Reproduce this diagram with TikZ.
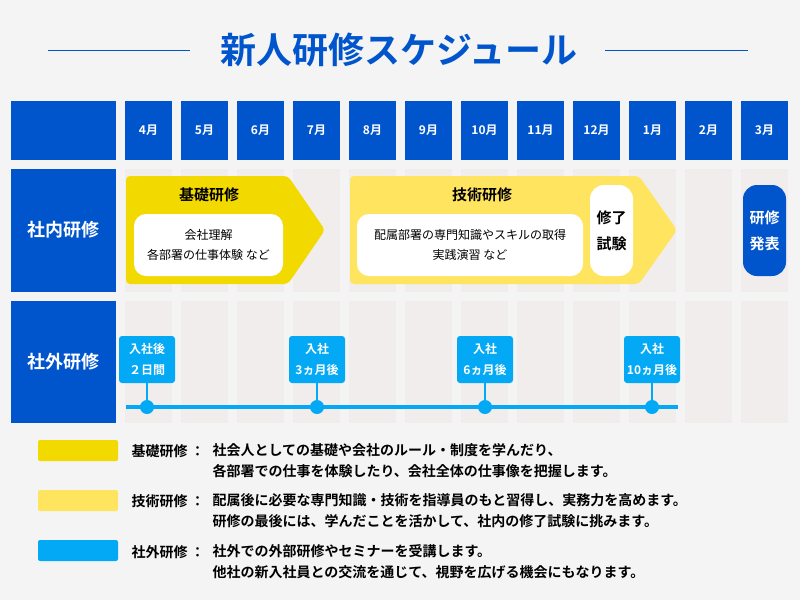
\documentclass[tikz,border=0pt]{standalone}
\usepackage{fontspec}
\setmainfont{Noto Sans CJK JP}[BoldFont={Noto Sans CJK JP Bold}]
\definecolor{bg}{HTML}{F4F4F4}
\definecolor{navy}{HTML}{0055CC}
\definecolor{pale}{HTML}{F1EDED}
\definecolor{yel}{HTML}{F2D900}
\definecolor{lyel}{HTML}{FFE55F}
\definecolor{cyan}{HTML}{03A9F4}
\begin{document}
\begin{tikzpicture}[x=1pt,y=-1pt,
 txt/.style={font=\bfseries\fontsize{12}{14}\selectfont,text=white},
 lab/.style={font=\bfseries\fontsize{18}{21}\selectfont,text=white},
 wbox/.style={fill=white,rounded corners=12pt,align=center,font=\fontsize{12}{20}\selectfont},
 tag/.style={fill=cyan,rounded corners=3pt,minimum width=56pt,minimum height=47pt,align=center,text=white,font=\bfseries\fontsize{12}{21}\selectfont,inner sep=0pt},
 dot/.style={circle,fill=cyan,minimum size=14pt,inner sep=0pt},
 leg/.style={anchor=west,align=left,font=\bfseries\fontsize{14}{21}\selectfont}]
\fill[bg] (0,0) rectangle (800,600);
\useasboundingbox (0,0) rectangle (800,600);
\node[font=\bfseries\fontsize{36}{40}\selectfont,text=navy] (title) at (399,50) {新人研修スケジュール};
\draw[navy,line width=1pt] (48,50) -- (190,50) (605,50) -- (748,50);
\fill[navy] (11,101) rectangle (116,160);
\fill[navy] (11,169) rectangle (116,292);
\fill[navy] (11,301) rectangle (116,423);
\node[lab] (r1) at (63.5,230) {社内研修};
\node[lab] (r2) at (63.5,362) {社外研修};
\foreach \m [count=\i from 0] in {4,5,6,7,8,9,10,11,12,1,2,3}{
  \pgfmathsetmacro\xx{125+56*\i}
  \fill[navy] (\xx,101) rectangle ++(47,59);
  \node[txt] (m\i) at (\xx+23.5,130) {\m 月};
  \fill[pale] (\xx,169) rectangle ++(47,123);
  \fill[pale] (\xx,301) rectangle ++(47,122);
}
\fill[yel,rounded corners=4pt] (126,176) -- (288,176) -- (325,230) -- (288,284) -- (126,284) -- cycle;
\node[font=\bfseries\fontsize{15}{17}\selectfont] (k1) at (209,195) {基礎研修};
\node[wbox,minimum width=149pt,minimum height=62pt] (k2) at (208.5,245) {会社理解\\各部署の仕事体験 など};
\fill[lyel,rounded corners=4pt] (350,176) -- (639,176) -- (677,230) -- (639,284) -- (350,284) -- cycle;
\node[font=\bfseries\fontsize{15}{17}\selectfont] (g1) at (482,195) {技術研修};
\node[wbox,minimum width=226pt,minimum height=62pt] (g2) at (470,245) {配属部署の専門知識やスキルの取得\\実践演習 など};
\node[wbox,minimum width=43pt,minimum height=91pt,rounded corners=14pt,font=\bfseries\fontsize{15}{26}\selectfont,inner sep=0pt] (g3) at (611.5,230.5) {修了\\試験};
\node[fill=navy,rounded corners=14pt,minimum width=43pt,minimum height=91pt,inner sep=0pt,align=center,text=white,font=\bfseries\fontsize{15}{26}\selectfont] (hp) at (764.5,230.5) {研修\\発表};
\coordinate (ls) at (126,407);
\coordinate (le) at (678,407);
\draw[cyan,line width=4pt] (ls) -- (le);
\foreach \x/\t [count=\j] in {147/{入社後\\２日間},317/{入社\\3ヵ月後},485/{入社\\6ヵ月後},652/{入社\\10ヵ月後}}{
  \node[tag] (t\j) at (\x,359.5) {\t};
  \node[dot] (d\j) at (\x,407) {};
  \draw[cyan,line width=1.5pt] (t\j.south) -- (d\j);
}
\fill[yel,rounded corners=2pt] (38,440) rectangle (118,461);
\fill[lyel,rounded corners=2pt] (38,490) rectangle (118,511);
\fill[cyan,rounded corners=2pt] (38,540) rectangle (118,561);
\node[leg] (a1) at (128,461) {基礎研修 ：\\\phantom{x}};
\node[leg] (a2) at (209,461) {社会人としての基礎や会社のルール・制度を学んだり、\\各部署での仕事を体験したり、会社全体の仕事像を把握します。};
\node[leg] (b1) at (128,511) {技術研修 ：\\\phantom{x}};
\node[leg] (b2) at (209,511) {配属後に必要な専門知識・技術を指導員のもと習得し、実務力を高めます。\\研修の最後には、学んだことを活かして、社内の修了試験に挑みます。};
\node[leg] (c1) at (128,562) {社外研修 ：\\\phantom{x}};
\node[leg] (c2) at (209,562) {社外での外部研修やセミナーを受講します。\\他社の新入社員との交流を通じて、視野を広げる機会にもなります。};
\end{tikzpicture}
\end{document}
